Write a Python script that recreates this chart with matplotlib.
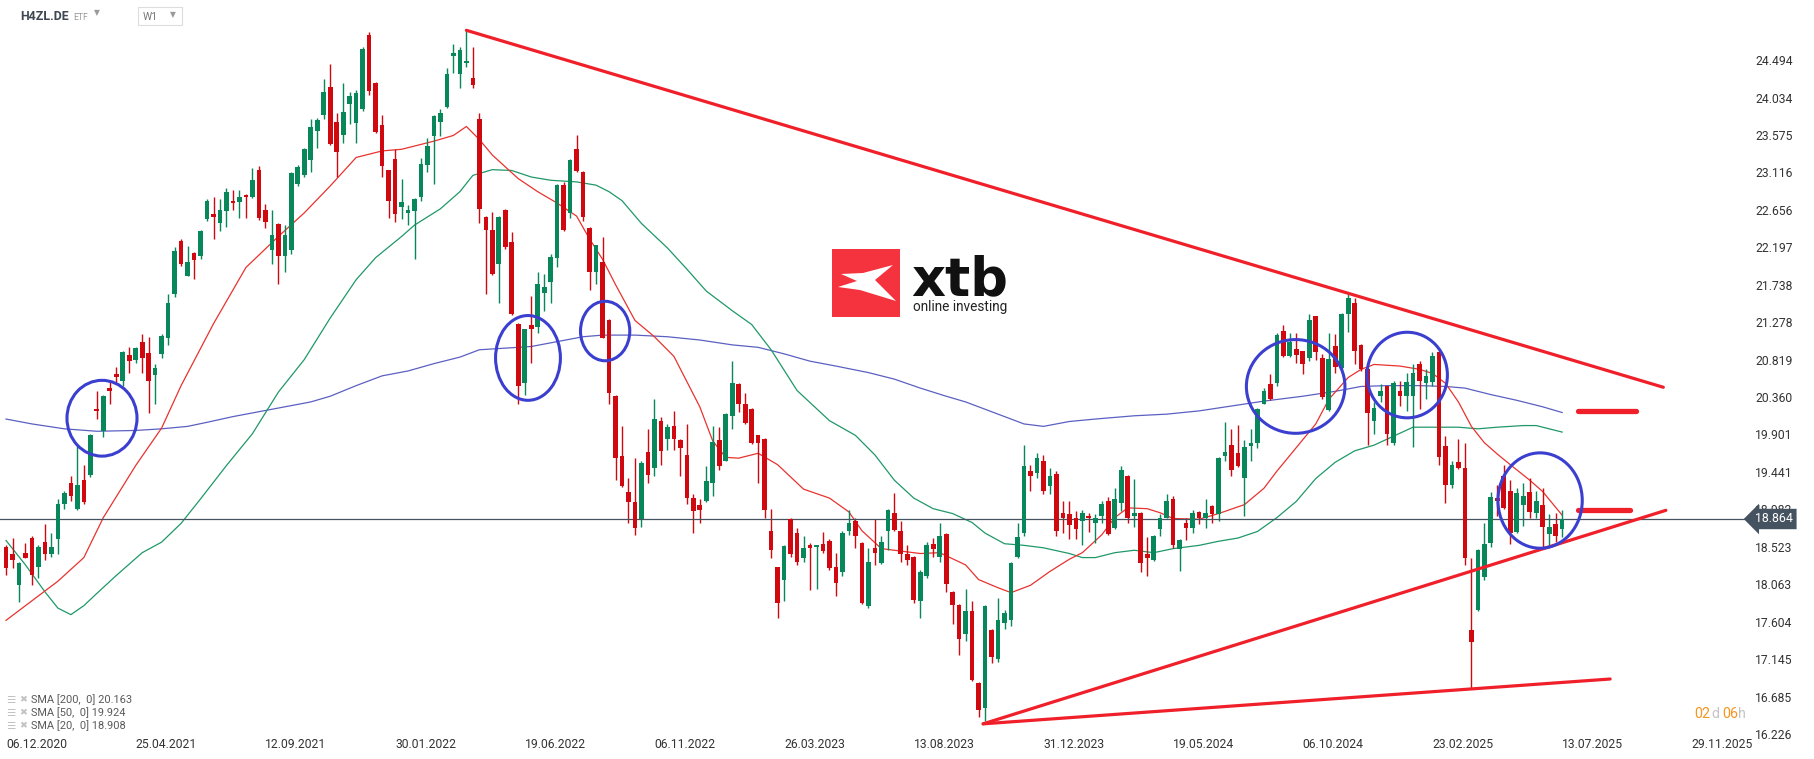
import numpy as np
import matplotlib.pyplot as plt
from matplotlib.patches import Ellipse, Rectangle, Polygon

plt.rcParams['font.family'] = ['Roboto', 'DejaVu Sans']

# ---- weekly candles, first bar = 06.12.2020 ----
opens = [18.52, 18.44, 18.05, 18.45, 18.63, 18.28, 18.58, 18.44, 18.62, 19.05,
         19.31, 18.99, 19.34, 19.40, 20.21, 19.94, 20.46, 20.64, 20.56, 20.87,
         20.81, 21.04, 20.90, 20.63, 20.89, 21.08, 21.62, 22.28, 21.85, 22.13,
         22.09, 22.54, 22.60, 22.50, 22.64, 22.76, 22.75, 22.84, 22.82, 23.14,
         22.66, 22.17, 22.48, 22.09, 22.17, 22.97, 23.08, 23.27, 23.63, 23.82,
         24.16, 23.74, 23.58, 23.95, 23.72, 23.89, 24.80, 24.21, 23.70, 23.14,
         23.28, 22.69, 22.62, 22.64, 22.82, 23.21, 23.56, 23.73, 23.92, 24.54,
         24.32, 24.46, 24.28, 23.77, 22.57, 22.41, 21.99, 22.66, 22.26, 21.26,
         20.53, 21.24, 21.22, 21.64, 21.77, 22.07, 22.96, 22.62, 23.40, 23.12,
         22.44, 21.89, 22.02, 21.31, 20.37, 19.64, 19.20, 19.07, 18.86, 19.69,
         19.49, 20.07, 19.84, 20.00, 19.83, 19.65, 19.12, 19.04, 19.09, 19.30,
         19.83, 19.58, 20.13, 20.52, 20.27, 20.21, 19.89, 19.85, 18.72, 18.27,
         18.12, 18.86, 18.69, 18.38, 18.54, 18.52, 18.56, 18.59, 18.27, 18.21,
         18.72, 18.84, 18.57, 17.79, 18.51, 18.32, 18.72, 18.94, 18.72, 18.43,
         18.40, 17.86, 18.17, 18.56, 18.40, 18.68, 17.97, 17.81, 17.45, 17.73,
         16.85, 16.54, 17.50, 17.15, 17.59, 17.63, 18.40, 18.69, 19.45, 19.43,
         19.58, 19.27, 19.42, 18.94, 18.92, 18.88, 18.84, 18.90, 18.81, 18.90,
         19.09, 18.75, 19.06, 19.39, 18.90, 18.94, 18.43, 18.36, 18.74, 18.88,
         19.11, 18.50, 18.82, 18.75, 18.95, 18.88, 19.02, 18.92, 19.64, 19.77,
         19.67, 19.37, 19.76, 19.79, 20.28, 20.52, 20.53, 21.17, 20.86, 20.95,
         20.92, 20.84, 21.35, 20.84, 20.20, 20.99, 20.72, 21.38, 21.51, 21.00,
         20.71, 20.07, 20.37, 20.49, 19.79, 20.44, 20.37, 20.37, 20.76, 20.53,
         20.54, 20.91, 19.76, 19.28, 19.56, 19.49, 17.50, 17.75, 18.15, 18.57,
         19.12, 19.39, 19.21, 18.70, 19.03, 19.20, 18.94, 19.03, 18.68, 18.80,
         18.74]
highs = [18.55, 18.63, 18.33, 18.57, 18.65, 18.54, 18.80, 18.69, 19.11, 19.21,
         19.39, 19.76, 19.53, 19.91, 20.43, 20.38, 20.56, 20.73, 20.93, 20.97,
         20.98, 21.13, 21.10, 20.77, 21.13, 21.63, 22.20, 22.30, 22.21, 22.14,
         22.41, 22.79, 22.82, 22.79, 22.92, 22.90, 22.90, 22.85, 23.17, 23.19,
         22.73, 22.66, 22.50, 22.47, 23.12, 23.21, 23.41, 23.77, 23.78, 24.26,
         24.45, 23.85, 24.21, 24.10, 24.13, 24.65, 24.84, 24.22, 23.82, 23.15,
         23.40, 23.04, 22.72, 22.80, 23.29, 23.54, 23.82, 23.89, 24.40, 24.69,
         24.66, 24.86, 24.66, 23.85, 22.58, 22.63, 22.58, 22.67, 22.38, 21.27,
         21.20, 21.60, 21.90, 21.87, 22.11, 22.97, 23.00, 23.28, 23.58, 23.13,
         22.45, 22.23, 22.32, 21.32, 20.38, 20.00, 19.37, 19.61, 19.58, 19.97,
         20.34, 20.12, 20.03, 20.19, 19.84, 20.03, 19.17, 19.11, 19.51, 20.00,
         19.99, 20.16, 20.80, 20.53, 20.41, 20.22, 19.90, 19.86, 18.99, 18.28,
         18.54, 18.87, 18.75, 18.66, 18.57, 18.55, 18.71, 18.62, 18.45, 18.72,
         18.97, 18.88, 18.58, 18.51, 18.86, 18.66, 18.99, 19.18, 18.84, 18.54,
         18.41, 18.24, 18.58, 18.63, 18.82, 18.69, 17.98, 17.82, 18.00, 17.86,
         16.86, 17.81, 17.51, 17.89, 17.75, 18.33, 18.81, 19.77, 19.53, 19.67,
         19.65, 19.49, 19.45, 19.09, 19.09, 18.96, 18.97, 18.94, 18.92, 19.08,
         19.13, 19.25, 19.51, 19.40, 19.36, 18.95, 18.64, 18.67, 18.93, 19.17,
         19.14, 18.62, 18.88, 18.97, 18.96, 19.11, 19.04, 19.63, 20.05, 19.97,
         20.02, 19.83, 19.97, 20.22, 20.47, 20.64, 21.14, 21.24, 21.15, 21.15,
         20.93, 21.38, 21.36, 20.89, 21.15, 21.13, 21.39, 21.62, 21.58, 21.01,
         20.72, 20.30, 20.52, 20.50, 20.56, 20.56, 20.66, 20.76, 20.80, 20.70,
         20.91, 20.92, 19.88, 19.58, 19.85, 19.79, 18.39, 18.49, 18.82, 19.20,
         19.28, 19.52, 19.34, 19.25, 19.30, 19.37, 19.21, 19.24, 18.92, 18.94,
         18.97]
lows = [18.18, 18.26, 17.84, 18.38, 18.05, 18.14, 18.36, 18.40, 18.44, 18.99,
        19.09, 18.97, 19.05, 19.38, 20.09, 19.87, 20.28, 20.53, 20.50, 20.66,
        20.78, 20.66, 20.17, 20.28, 20.84, 21.00, 21.59, 21.97, 21.84, 21.81,
        22.05, 22.52, 22.30, 22.40, 22.45, 22.66, 22.56, 22.56, 22.80, 22.53,
        22.44, 21.99, 21.75, 21.90, 22.11, 22.95, 23.06, 23.12, 23.42, 23.77,
        23.45, 23.06, 23.48, 23.71, 23.48, 23.87, 24.07, 23.60, 23.06, 22.56,
        22.51, 22.54, 22.47, 22.05, 22.76, 23.12, 22.98, 23.56, 23.91, 24.34,
        24.15, 24.41, 24.15, 22.50, 21.63, 21.86, 21.51, 22.18, 21.37, 20.28,
        20.38, 20.78, 21.14, 21.41, 21.51, 21.96, 22.40, 22.56, 23.12, 22.52,
        21.67, 21.75, 21.08, 20.28, 19.34, 19.26, 18.82, 18.67, 18.76, 19.30,
        19.39, 19.52, 19.71, 19.71, 19.39, 19.05, 18.69, 18.81, 19.07, 19.15,
        19.47, 19.57, 19.97, 20.18, 20.03, 19.78, 19.30, 18.88, 18.39, 17.65,
        17.86, 18.40, 18.30, 18.33, 17.99, 18.00, 18.45, 18.24, 17.92, 18.17,
        18.67, 18.51, 17.82, 17.77, 18.30, 18.31, 18.48, 18.72, 18.33, 18.30,
        17.83, 17.65, 18.14, 18.40, 18.33, 17.97, 17.57, 17.19, 17.37, 16.87,
        16.43, 16.38, 17.10, 17.11, 17.51, 17.55, 18.39, 18.66, 19.21, 19.37,
        19.17, 19.17, 18.66, 18.69, 18.62, 18.62, 18.54, 18.70, 18.57, 18.82,
        18.67, 18.74, 18.96, 18.81, 18.76, 18.21, 18.17, 18.35, 18.66, 18.87,
        18.51, 18.23, 18.60, 18.69, 18.80, 18.75, 18.82, 18.84, 19.58, 19.39,
        19.50, 18.90, 19.58, 19.73, 20.27, 20.32, 20.50, 20.85, 20.85, 20.78,
        20.64, 20.80, 20.82, 20.34, 20.19, 20.65, 20.71, 21.16, 20.76, 20.68,
        19.77, 19.91, 20.30, 19.77, 19.77, 20.25, 20.19, 19.75, 20.21, 20.33,
        20.50, 19.53, 19.06, 19.25, 19.48, 18.30, 16.79, 17.74, 18.12, 18.52,
        18.90, 18.99, 18.56, 18.69, 18.78, 18.88, 18.88, 18.52, 18.52, 18.58,
        18.64]
closes = [18.26, 18.36, 18.32, 18.39, 18.18, 18.52, 18.44, 18.52, 19.05, 19.18,
          19.14, 19.28, 19.07, 19.89, 20.19, 20.37, 20.44, 20.60, 20.91, 20.80,
          20.96, 20.84, 20.56, 20.72, 21.11, 21.51, 22.15, 21.99, 22.02, 22.04,
          22.40, 22.77, 22.57, 22.65, 22.88, 22.74, 22.82, 22.82, 23.02, 22.56,
          22.51, 22.35, 22.09, 22.35, 23.11, 23.18, 23.40, 23.67, 23.76, 24.10,
          23.47, 23.37, 23.86, 24.05, 24.09, 24.63, 24.11, 23.61, 23.19, 22.76,
          22.60, 22.75, 22.65, 22.79, 23.22, 23.44, 23.81, 23.85, 24.33, 24.58,
          24.62, 24.48, 24.19, 22.67, 22.41, 21.87, 22.57, 22.20, 21.38, 20.50,
          21.19, 21.19, 21.75, 21.71, 22.08, 22.96, 22.41, 23.27, 23.13, 22.57,
          21.89, 22.22, 21.09, 20.41, 19.61, 19.27, 19.07, 18.75, 19.55, 19.40,
          20.09, 19.70, 19.99, 19.85, 19.73, 19.12, 18.96, 18.97, 19.33, 19.81,
          19.51, 20.15, 20.53, 20.28, 20.04, 19.79, 19.80, 18.97, 18.48, 17.83,
          18.53, 18.44, 18.33, 18.51, 18.51, 18.54, 18.47, 18.26, 18.08, 18.69,
          18.82, 18.66, 17.83, 18.34, 18.45, 18.58, 18.97, 18.73, 18.43, 18.36,
          17.87, 18.21, 18.54, 18.49, 18.65, 18.06, 17.81, 17.39, 17.73, 16.89,
          16.52, 17.80, 17.17, 17.63, 17.71, 18.32, 18.64, 19.51, 19.39, 19.61,
          19.21, 19.39, 18.72, 18.87, 18.79, 18.74, 18.94, 18.88, 18.88, 19.05,
          18.68, 19.11, 19.47, 18.87, 18.94, 18.32, 18.39, 18.66, 18.88, 19.09,
          18.54, 18.60, 18.75, 18.94, 18.88, 18.94, 18.92, 19.61, 19.69, 19.46,
          19.51, 19.75, 19.79, 20.21, 20.44, 20.33, 21.12, 20.86, 21.03, 20.87,
          20.77, 21.30, 20.91, 20.36, 20.83, 20.73, 21.38, 21.57, 20.92, 20.71,
          20.16, 20.22, 20.44, 19.91, 20.53, 20.37, 20.55, 20.65, 20.56, 20.62,
          20.86, 19.62, 19.28, 19.52, 19.49, 18.38, 17.35, 18.48, 18.56, 19.13,
          19.09, 19.00, 18.69, 19.18, 19.15, 18.95, 19.09, 18.76, 18.76, 18.66,
          18.864]

# ---- moving averages as shown (bar index, value) ----
sma20_idx = [0, 4, 8, 12, 15, 20, 24, 27, 32, 37, 42, 46, 50, 54, 58, 61, 66, 69, 71,
             73, 75, 79, 82, 85, 88, 90, 92, 94, 97, 100, 103, 107, 109, 111, 113, 116,
             119, 123, 127, 130, 132, 135, 138, 141, 144, 148, 150, 153, 155, 158, 161,
             164, 166, 169, 171, 173, 176, 178, 180, 184, 187, 191, 194, 196, 199, 202,
             204, 207, 209, 211, 215, 218, 220, 222, 224, 226, 228, 230, 232, 235, 237, 240]
sma20_val = [17.62, 17.86, 18.10, 18.39, 18.88, 19.52, 19.98, 20.50, 21.26, 21.95, 22.33,
             22.62, 22.95, 23.30, 23.38, 23.40, 23.50, 23.57, 23.68, 23.52, 23.33, 23.04,
             22.88, 22.74, 22.58, 22.30, 22.05, 21.74, 21.30, 21.10, 20.86, 20.24, 19.82,
             19.62, 19.61, 19.67, 19.53, 19.23, 19.12, 18.95, 18.72, 18.50, 18.47, 18.44,
             18.45, 18.30, 18.12, 18.02, 17.96, 18.05, 18.22, 18.37, 18.45, 18.67, 18.88,
             19.00, 18.99, 18.94, 18.87, 18.86, 18.93, 19.04, 19.24, 19.45, 19.74, 20.03,
             20.33, 20.60, 20.70, 20.76, 20.74, 20.70, 20.65, 20.53, 20.30, 20.00, 19.80,
             19.66, 19.53, 19.34, 19.20, 18.91]
sma50_idx = [0, 3, 6, 8, 10, 12, 14, 17, 21, 24, 27, 30, 34, 38, 42, 46, 50, 54, 57, 61,
             63, 67, 70, 72, 75, 78, 81, 84, 88, 91, 93, 95, 98, 102, 105, 108, 112, 115,
             118, 122, 127, 131, 134, 137, 140, 143, 146, 149, 151, 154, 157, 160, 164,
             166, 168, 171, 174, 177, 180, 184, 187, 190, 193, 196, 199, 202, 205, 208,
             211, 214, 217, 220, 224, 227, 230, 234, 236, 240]
sma50_val = [18.60, 18.30, 17.97, 17.77, 17.69, 17.80, 17.95, 18.17, 18.45, 18.58, 18.81,
             19.11, 19.52, 19.91, 20.42, 20.82, 21.33, 21.80, 22.07, 22.33, 22.47, 22.67,
             22.88, 23.08, 23.15, 23.14, 23.06, 23.02, 23.00, 22.96, 22.88, 22.77, 22.49,
             22.19, 21.93, 21.66, 21.42, 21.25, 20.94, 20.44, 20.07, 19.89, 19.65, 19.34,
             19.12, 18.99, 18.93, 18.82, 18.69, 18.56, 18.54, 18.51, 18.44, 18.39, 18.39,
             18.45, 18.48, 18.45, 18.50, 18.54, 18.59, 18.63, 18.71, 18.88, 19.08, 19.36,
             19.56, 19.70, 19.77, 19.88, 19.99, 19.99, 19.99, 19.97, 19.99, 20.01, 20.01,
             19.93]
sma200_idx = [0, 4, 9, 14, 20, 24, 28, 31, 35, 39, 43, 47, 50, 54, 58, 62, 66, 70, 73, 77,
              81, 85, 89, 92, 97, 102, 107, 112, 116, 120, 124, 128, 133, 137, 141, 145,
              148, 153, 157, 160, 164, 168, 174, 179, 184, 189, 194, 200, 205, 209, 213,
              218, 222, 225, 229, 233, 237, 240]
sma200_val = [20.09, 20.03, 19.97, 19.94, 19.95, 19.97, 20.00, 20.05, 20.12, 20.18, 20.24,
              20.30, 20.37, 20.50, 20.62, 20.68, 20.77, 20.85, 20.94, 20.96, 20.98, 21.04,
              21.10, 21.12, 21.12, 21.10, 21.06, 21.00, 20.97, 20.89, 20.80, 20.74, 20.66,
              20.58, 20.47, 20.37, 20.30, 20.15, 20.03, 20.00, 20.06, 20.09, 20.13, 20.15,
              20.19, 20.25, 20.31, 20.37, 20.43, 20.49, 20.50, 20.50, 20.49, 20.47, 20.39,
              20.32, 20.24, 20.17]
sma_legend = ['SMA [200,  0] 20.163', 'SMA [50,  0] 19.924', 'SMA [20,  0] 18.908']

# ---- axis labels ----
date_ticks = [0, 20, 40, 60, 80, 100, 120, 140, 160, 180, 200, 220, 240, 260]
date_labels = ['06.12.2020', '25.04.2021', '12.09.2021', '30.01.2022', '19.06.2022',
               '06.11.2022', '26.03.2023', '13.08.2023', '31.12.2023', '19.05.2024',
               '06.10.2024', '23.02.2025', '13.07.2025', '29.11.2025']
price_labels = ['16.226', '16.685', '17.145', '17.604', '18.063', '18.523', '18.982',
                '19.441', '19.901', '20.360', '20.819', '21.278', '21.738', '22.197',
                '22.656', '23.116', '23.575', '24.034', '24.494']
last_price = 18.864

# ---- drawings on the chart ----
trend_lines = [([71, 255.6], [24.86, 20.48]),
               ([150.7, 256.0], [16.35, 18.97]),
               ([150.7, 247.4], [16.35, 16.90])]
level_lines = [([242.4, 251.4], [20.19, 20.19]),
               ([242.4, 250.4], [18.97, 18.97])]
circles = [(14.8, 20.10, 10.8, 0.93), (80.5, 20.84, 10.0, 1.04), (92.4, 21.17, 7.6, 0.73),
           (198.9, 20.49, 15.2, 1.15), (216.1, 20.63, 12.4, 1.05), (236.6, 19.09, 13.0, 1.17)]

W, H = 1815, 759
def fx(px):
    return px / W
def fy(py):
    return 1 - py / H

fig = plt.figure(figsize=(W / 100, H / 100), dpi=100)
ax = fig.add_axes([0, fy(735), fx(1745), 735 / H])
ax.set_xlim(-0.93, 268.2)
ax.set_ylim(16.213, 25.232)

GREEN, RED = '#07875a', '#d0080f'
o = np.array(opens); c = np.array(closes)
hi = np.array(highs); lo = np.array(lows)
x = np.arange(len(o))
up = c >= o
col = np.where(up, GREEN, RED)

# moving averages (behind candles)
ax.plot(sma200_idx, sma200_val, color='#5b60c2', lw=0.9, zorder=1)
ax.plot(sma50_idx, sma50_val, color='#1f9868', lw=0.9, zorder=1)
ax.plot(sma20_idx, sma20_val, color='#e8332f', lw=0.9, zorder=1)

ax.vlines(x, lo, hi, colors=col, lw=1.0, zorder=2)
body = np.maximum(np.abs(c - o), 0.025)
ax.bar(x, body, bottom=np.minimum(o, c), width=0.72, color=col, lw=0, zorder=3)

ax.axhline(last_price, color='#455260', lw=0.9, zorder=2)

for xs, ys in trend_lines:
    ax.plot(xs, ys, color='#f0202a', lw=2.3, solid_capstyle='round', zorder=4)
for xs, ys in level_lines:
    ax.plot(xs, ys, color='#f0202a', lw=3.8, solid_capstyle='round', zorder=4)
for cx, cy, w, h in circles:
    ax.add_patch(Ellipse((cx, cy), w, h, fill=False, ec='#3b3fcf', lw=2.2, zorder=5))

for s in ax.spines.values():
    s.set_visible(False)
ax.yaxis.tick_right()
ax.set_yticks([float(v) for v in price_labels])
ax.set_yticklabels(price_labels)
ax.set_xticks(date_ticks)
ax.set_xticklabels(date_labels, ha='left')
ax.tick_params(axis='both', length=0, labelsize=8.7, labelcolor='#333333')
ax.tick_params(axis='y', pad=7.5)
ax.tick_params(axis='x', pad=2.5)

# current price tag
fig.text(fx(1755), fy(519), f'{last_price:.3f}', color='white', fontsize=8.9,
         va='center', ha='left',
         bbox=dict(boxstyle='larrow,pad=0.3', fc='#455260', ec='none'))

# header
fig.text(fx(20), fy(16), 'H4ZL.DE', fontsize=8.9, weight='bold', color='#3f4852', va='center')
fig.text(fx(73), fy(17), 'ETF', fontsize=6.2, color='#9a9a9a', va='center')
fig.text(fx(94), fy(13), '▼', fontsize=5.5, color='#9a9a9a', va='center',
         family=['DejaVu Sans'])
fig.patches.append(Rectangle((fx(138), fy(25)), fx(44), 18 / H, transform=fig.transFigure,
                             fill=False, ec='#dddddd', lw=0.8))
fig.text(fx(143), fy(17), 'W1', fontsize=7.5, color='#777777', va='center')
fig.text(fx(170), fy(15), '▼', fontsize=5.5, color='#9a9a9a', va='center',
         family=['DejaVu Sans'])

# legend of indicators
for k, lab in enumerate(sma_legend):
    yy = fy(700 + 13 * k)
    fig.text(fx(6), yy, '☰', fontsize=7.5, color='#c2c2c2', va='center', family=['DejaVu Sans'])
    fig.text(fx(19), yy, '✖', fontsize=6.8, color='#c2c2c2', va='center', family=['DejaVu Sans'])
    fig.text(fx(31), yy, lab, fontsize=7.9, color='#5a5a5a', va='center')

# candle countdown
for px_, txt, cl in [(1694, '02', '#f7941d'), (1711, 'd', '#c4c4c4'),
                     (1722, '06', '#f7941d'), (1738, 'h', '#c4c4c4')]:
    fig.text(fx(px_), fy(714), txt, fontsize=10.3, color=cl, va='center')

# watermark logo
fig.patches.append(Rectangle((fx(832), fy(317)), fx(68), 68 / H, transform=fig.transFigure,
                             fc='#f4333f', ec='none', zorder=6))
xmark = [(841, 274), (863, 273), (893, 265), (875, 280), (896, 301),
         (860, 290), (838, 287), (857, 281)]
fig.patches.append(Polygon([(fx(a), fy(b)) for a, b in xmark], closed=True,
                           transform=fig.transFigure, fc='white', ec='none', zorder=7))
fig.text(fx(911), fy(295), 'xtb', fontsize=38, weight='bold', color='#111111',
         va='baseline', family=['DejaVu Sans'], zorder=7)
fig.text(fx(913), fy(311), 'online investing', fontsize=9.8, color='#222222',
         va='baseline', zorder=7)

fig.savefig('out.png', dpi=100, facecolor='white')
